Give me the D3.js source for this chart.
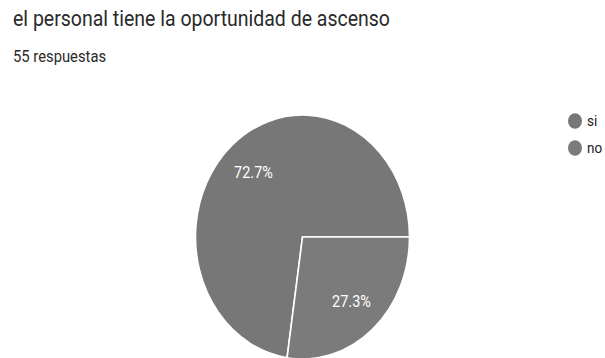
<!DOCTYPE html>
<html>
<head>
<meta charset="utf-8">
<script src="https://cdn.jsdelivr.net/npm/d3@7/dist/d3.min.js"></script>
<style>
  html, body { margin: 0; padding: 0; background: #fff; }
  svg { display: block; font-family: Roboto, "Noto Sans", Arial, sans-serif; }
</style>
</head>
<body>
<svg id="chart" width="605" height="358"></svg>
<script>
// Survey answers
const categories = ["si", "no"];
const percents = [72.7, 27.3];
const labels = ["72.7%", "27.3%"];
const sliceColors = ["#777777", "#7b7b7b"];
const titleText = "el personal tiene la oportunidad de ascenso";
const subtitleText = "55 respuestas";

const svg = d3.select("#chart");
const W = 605, H = 358;
const sy = 1.14; // vertical stretch applied to the whole drawing

svg.append("rect").attr("width", W).attr("height", H).attr("fill", "#fff");

function stretchedText(parent, x, y, size) {
  return parent.append("text")
    .attr("transform", `translate(${x},${y}) scale(1,${sy})`)
    .attr("font-size", size);
}

stretchedText(svg, 13, 26, 19.5).attr("fill", "#2a2a2a").text(titleText);
stretchedText(svg, 13, 62, 14.8).attr("fill", "#2a2a2a").text(subtitleText);

// Pie geometry
const cx = 302.5, cy = 237, r = 107;
const color = d3.scaleOrdinal().domain(categories).range(sliceColors);

const start = Math.PI / 2 - (percents[0] / 100) * 2 * Math.PI;
const pie = d3.pie().sort(null).value(d => d.v)
  .startAngle(start).endAngle(start + 2 * Math.PI);
const data = categories.map((c, i) => ({ c, v: percents[i], label: labels[i] }));
const arcs = pie(data);

const arc = d3.arc().innerRadius(0).outerRadius(r);
const labelArc = d3.arc().innerRadius(r * 0.7).outerRadius(r * 0.7);

const g = svg.append("g").attr("transform", `translate(${cx},${cy}) scale(1,${sy})`);
g.selectAll("path").data(arcs).enter().append("path")
  .attr("d", arc)
  .attr("fill", d => color(d.data.c))
  .attr("stroke", "#fff")
  .attr("stroke-width", 1.6)
  .attr("vector-effect", "non-scaling-stroke");

arcs.forEach(d => {
  const [lx, ly] = labelArc.centroid(d);
  stretchedText(svg, cx + lx, cy + ly * sy, 14.5)
    .attr("text-anchor", "middle")
    .attr("dominant-baseline", "central")
    .attr("fill", "#fff")
    .text(d.data.label);
});

// Legend
const legend = svg.append("g").attr("transform", "translate(575,121)");
const item = legend.selectAll("g").data(categories).enter().append("g")
  .attr("transform", (d, i) => `translate(0,${i * 27})`);
item.append("ellipse").attr("rx", 7).attr("ry", 7.8).attr("fill", d => color(d));
item.each(function (d) {
  stretchedText(d3.select(this), 12, 0, 13.5)
    .attr("dominant-baseline", "central")
    .attr("fill", "#222")
    .text(d);
});
</script>
</body>
</html>
